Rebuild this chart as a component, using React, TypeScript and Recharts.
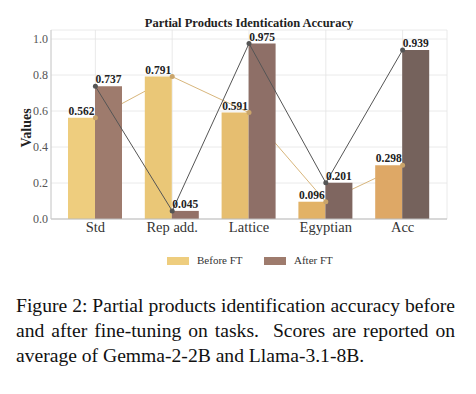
import { ComposedChart, Bar, Line, XAxis, YAxis, CartesianGrid, Cell, LabelList } from "recharts"

const categories = ["Std", "Rep add.", "Lattice", "Egyptian", "Acc"]
const beforeFT = [0.562, 0.791, 0.591, 0.096, 0.298]
const afterFT = [0.737, 0.045, 0.975, 0.201, 0.939]
const yTicks = [0, 0.2, 0.4, 0.6, 0.8, 1.0]

const BEFORE_COLORS = ["#eecd7e", "#eac777", "#e6be70", "#e2b266", "#dea866"]
const AFTER_COLORS = ["#9e7b6d", "#937167", "#8e6f67", "#7f6660", "#75625c"]

const SERIF = '"Liberation Serif", "Times New Roman", "DejaVu Serif", serif'

const data = categories.map((name, i) => ({ name, before: beforeFT[i], after: afterFT[i] }))

function ValueLabel(props: any) {
  const { x, y, width, value } = props
  return (
    <text
      x={x + width / 2}
      y={y - 3}
      textAnchor="middle"
      style={{ fontFamily: SERIF, fontWeight: "bold", fontSize: 11.5 }}
      fill="#222"
    >
      {Number(value).toFixed(3)}
    </text>
  )
}

export default function App() {
  return (
    <div style={{ position: "absolute", left: 0, top: 0, width: 476, height: 394, background: "#fff", fontFamily: SERIF }}>
      <div
        style={{
          position: "absolute",
          left: 0,
          width: 476,
          top: 16,
          lineHeight: "14px",
          textAlign: "center",
          fontSize: 12.5,
          fontWeight: "bold",
          color: "#222",
          paddingLeft: 22,
          boxSizing: "border-box",
        }}
      >
        Partial Products Identication Accuracy
      </div>
      <div
        style={{
          position: "absolute",
          left: 27,
          top: 128,
          transform: "translate(-50%, -50%) rotate(-90deg)",
          fontSize: 14,
          fontWeight: "bold",
          color: "#222",
        }}
      >
        Values
      </div>
      <div style={{ position: "absolute", left: 0, top: 0 }}>
        <ComposedChart
          width={476}
          height={280}
          data={data}
          margin={{ top: 30, right: 29, bottom: 31, left: 0 }}
          barGap={0}
          style={{ fontFamily: SERIF }}
        >
          <CartesianGrid stroke="#e4e4e4" strokeWidth={0.8} />
          <XAxis
            dataKey="name"
            padding={{ left: 6, right: 6 }}
            height={30}
            tickLine={false}
            tickSize={0}
            axisLine={{ stroke: "#bbb" }}
            tick={{ fontFamily: SERIF, fontSize: 14.5, fill: "#333" }}
            tickMargin={3}
            interval={0}
          />
          <YAxis
            width={51}
            domain={[0, 1.05]}
            ticks={yTicks}
            tickFormatter={(v: number) => v.toFixed(1)}
            tickLine={false}
            tickSize={0}
            axisLine={{ stroke: "#ccc" }}
            tick={{ fontFamily: SERIF, fontSize: 12, fill: "#555" }}
            tickMargin={3}
          />
          <Line
            dataKey="before"
            stroke="#d8b67c"
            strokeWidth={1}
            dot={{ r: 2.5, fill: "#c9a46a", stroke: "none" }}
            isAnimationActive={false}
            zIndex={250}
          />
          <Bar dataKey="before" barSize={27} isAnimationActive={false}>
            {data.map((_, i) => (
              <Cell key={i} fill={BEFORE_COLORS[i]} />
            ))}
            <LabelList dataKey="before" content={ValueLabel} />
          </Bar>
          <Bar dataKey="after" barSize={27} isAnimationActive={false}>
            {data.map((_, i) => (
              <Cell key={i} fill={AFTER_COLORS[i]} />
            ))}
            <LabelList dataKey="after" content={ValueLabel} />
          </Bar>
          <Line
            dataKey="after"
            stroke="#555"
            strokeWidth={1}
            dot={{ r: 2.5, fill: "#555", stroke: "none" }}
            isAnimationActive={false}
          />
        </ComposedChart>
      </div>
      <div style={{ position: "absolute", left: 167, top: 257, width: 22, height: 8, background: BEFORE_COLORS[0] }} />
      <div style={{ position: "absolute", left: 197, top: 254, fontSize: 11, color: "#333" }}>Before FT</div>
      <div style={{ position: "absolute", left: 264, top: 257, width: 22, height: 8, background: AFTER_COLORS[0] }} />
      <div style={{ position: "absolute", left: 294, top: 254, fontSize: 11, color: "#333" }}>After FT</div>
      <div style={{ position: "absolute", left: 16, top: 293, width: 439, fontSize: 19.6, lineHeight: "25px", color: "#111" }}>
        <div style={{ whiteSpace: "nowrap", textAlign: "justify", textAlignLast: "justify" }}>
          Figure 2: Partial products identification accuracy before
        </div>
        <div style={{ whiteSpace: "nowrap", textAlign: "justify", textAlignLast: "justify" }}>
          and after fine-tuning on tasks.&nbsp; Scores are reported on
        </div>
        <div style={{ whiteSpace: "nowrap" }}>average of Gemma-2-2B and Llama-3.1-8B.</div>
      </div>
    </div>
  )
}
